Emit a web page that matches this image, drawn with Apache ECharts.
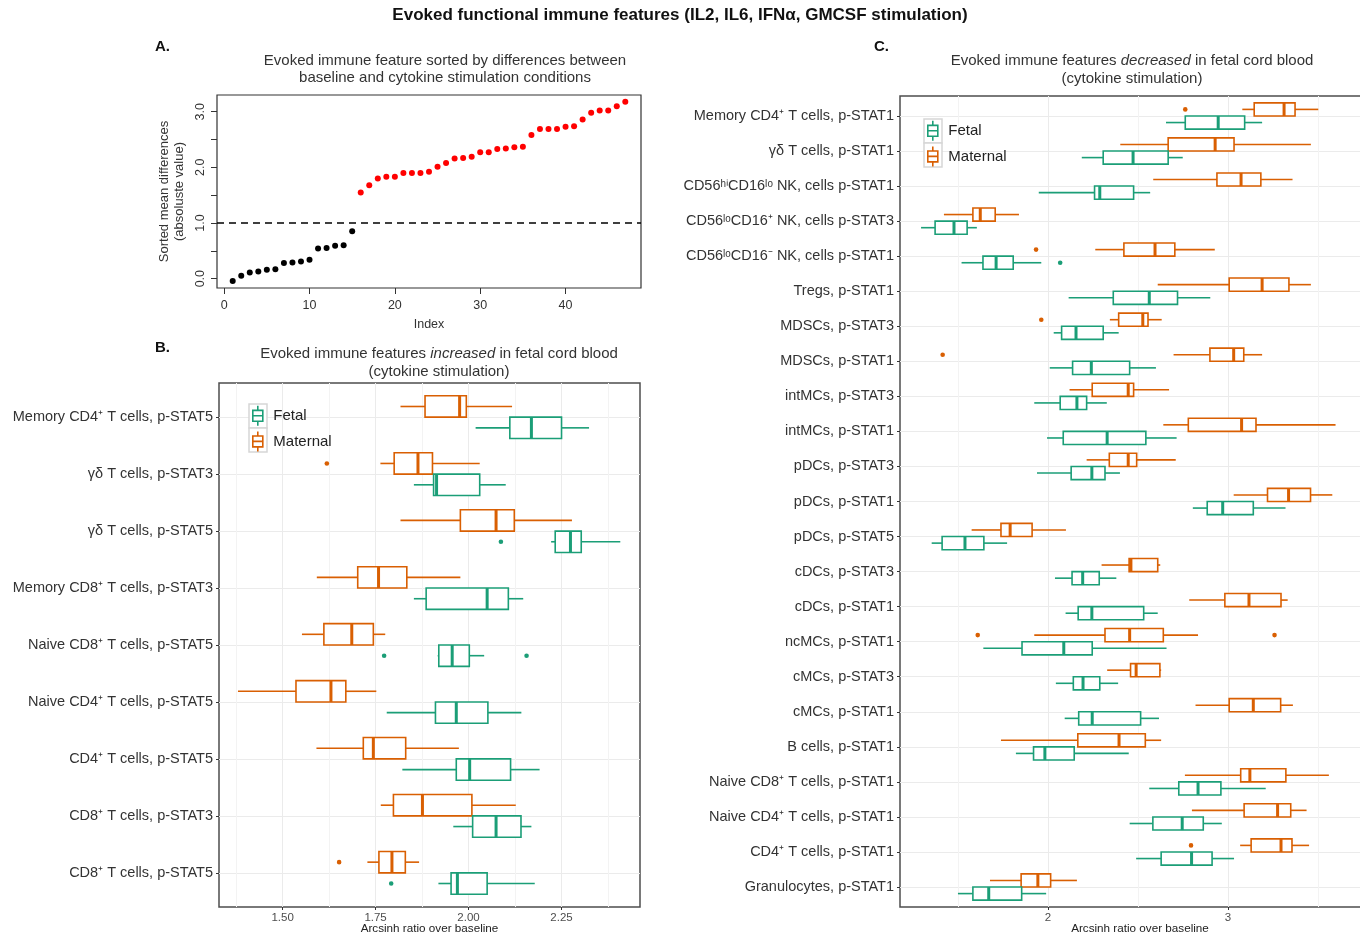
<!DOCTYPE html>
<html lang="en">
<head>
<meta charset="UTF-8">
<title>Evoked functional immune features</title>
<style>
  html, body { margin: 0; padding: 0; background: #fff; }
  #main { width: 1360px; height: 937px; }
</style>
</head>
<body>
<div id="main"></div>
<script src="https://cdn.jsdelivr.net/npm/echarts@6.0.0/dist/echarts.min.js"></script>
<script>
// ---------- panel A: sorted mean differences ----------
var aDiff = [-0.04, 0.05, 0.11, 0.13, 0.16, 0.17, 0.28, 0.29, 0.31, 0.34,
  0.54, 0.55, 0.59, 0.60, 0.85, 1.55, 1.68, 1.80, 1.83, 1.83,
  1.90, 1.90, 1.90, 1.92, 2.01, 2.08, 2.16, 2.17, 2.19, 2.27,
  2.27, 2.33, 2.34, 2.36, 2.37, 2.58, 2.69, 2.69, 2.69, 2.73,
  2.74, 2.86, 2.98, 3.02, 3.02, 3.10, 3.18];
var aThreshold = 1.0;
var aXTicks = [0, 10, 20, 30, 40];
var aYTicks = [0, 0.5, 1, 1.5, 2, 2.5, 3];
var aYLabels = [0, 1, 2, 3];

// ---------- panel B: increased in fetal cord blood ----------
// rows: [min, q1, median, q3, max]
var bCategories = [
  'Memory CD4⁺ T cells, p-STAT5',
  'γδ T cells, p-STAT3',
  'γδ T cells, p-STAT5',
  'Memory CD8⁺ T cells, p-STAT3',
  'Naive CD8⁺ T cells, p-STAT5',
  'Naive CD4⁺ T cells, p-STAT5',
  'CD4⁺ T cells, p-STAT5',
  'CD8⁺ T cells, p-STAT3',
  'CD8⁺ T cells, p-STAT5'
];
var bMaternal = [
  [1.817, 1.883, 1.976, 1.994, 2.117],
  [1.763, 1.800, 1.864, 1.903, 2.030],
  [1.817, 1.978, 2.074, 2.123, 2.278],
  [1.592, 1.702, 1.758, 1.834, 1.978],
  [1.552, 1.611, 1.686, 1.744, 1.776],
  [1.380, 1.536, 1.630, 1.670, 1.752],
  [1.591, 1.717, 1.744, 1.831, 1.974],
  [1.764, 1.798, 1.876, 2.009, 2.127],
  [1.728, 1.759, 1.794, 1.830, 1.867]
];
var bFetal = [
  [2.019, 2.111, 2.169, 2.250, 2.324],
  [1.853, 1.906, 1.914, 2.030, 2.100],
  [2.222, 2.233, 2.274, 2.303, 2.408],
  [1.853, 1.886, 2.050, 2.107, 2.147],
  [1.917, 1.920, 1.956, 2.002, 2.042],
  [1.780, 1.911, 1.967, 2.052, 2.142],
  [1.822, 1.967, 2.003, 2.113, 2.191],
  [1.959, 2.011, 2.074, 2.141, 2.169],
  [1.919, 1.953, 1.970, 2.050, 2.178]
];
// [category index, value]
var bMaternalOut = [[1, 1.619], [8, 1.652]];
var bFetalOut = [[2, 2.087], [4, 1.773], [4, 2.156], [8, 1.792]];
var bMajorTicks = [1.5, 1.75, 2.0, 2.25];
var bMinorTicks = [1.375, 1.625, 1.875, 2.125, 2.375];

// ---------- panel C: decreased in fetal cord blood ----------
var cCategories = [
  'Memory CD4⁺ T cells, p-STAT1',
  'γδ T cells, p-STAT1',
  'CD56ʰⁱCD16ˡᵒ NK, cells p-STAT1',
  'CD56ˡᵒCD16⁺ NK, cells p-STAT3',
  'CD56ˡᵒCD16⁻ NK, cells p-STAT1',
  'Tregs, p-STAT1',
  'MDSCs, p-STAT3',
  'MDSCs, p-STAT1',
  'intMCs, p-STAT3',
  'intMCs, p-STAT1',
  'pDCs, p-STAT3',
  'pDCs, p-STAT1',
  'pDCs, p-STAT5',
  'cDCs, p-STAT3',
  'cDCs, p-STAT1',
  'ncMCs, p-STAT1',
  'cMCs, p-STAT3',
  'cMCs, p-STAT1',
  'B cells, p-STAT1',
  'Naive CD8⁺ T cells, p-STAT1',
  'Naive CD4⁺ T cells, p-STAT1',
  'CD4⁺ T cells, p-STAT1',
  'Granulocytes, p-STAT1'
];
var cMaternal = [
  [3.080, 3.146, 3.312, 3.373, 3.502],
  [2.402, 2.668, 2.929, 3.034, 3.461],
  [2.585, 2.939, 3.073, 3.183, 3.359],
  [1.422, 1.583, 1.624, 1.707, 1.839],
  [2.263, 2.422, 2.595, 2.705, 2.927],
  [2.610, 3.007, 3.190, 3.339, 3.461],
  [2.344, 2.393, 2.527, 2.556, 2.632],
  [2.698, 2.900, 3.032, 3.088, 3.190],
  [2.120, 2.246, 2.446, 2.476, 2.673],
  [2.641, 2.780, 3.076, 3.156, 3.598],
  [2.215, 2.341, 2.446, 2.493, 2.710],
  [3.032, 3.220, 3.337, 3.459, 3.580],
  [1.576, 1.739, 1.790, 1.912, 2.100],
  [2.298, 2.451, 2.461, 2.610, 2.624],
  [2.785, 2.983, 3.117, 3.295, 3.332],
  [1.924, 2.317, 2.454, 2.641, 2.834],
  [2.329, 2.459, 2.490, 2.622, 2.629],
  [2.820, 3.007, 3.141, 3.293, 3.361],
  [1.739, 2.166, 2.395, 2.541, 2.629],
  [2.761, 3.071, 3.122, 3.322, 3.561],
  [2.800, 3.090, 3.276, 3.349, 3.437],
  [3.068, 3.129, 3.295, 3.356, 3.451],
  [1.678, 1.851, 1.944, 2.015, 2.161]
];
var cFetal = [
  [2.656, 2.763, 2.946, 3.093, 3.190],
  [2.188, 2.307, 2.473, 2.668, 2.749],
  [1.949, 2.259, 2.288, 2.476, 2.568],
  [1.295, 1.373, 1.478, 1.551, 1.605],
  [1.520, 1.639, 1.712, 1.807, 1.963],
  [2.115, 2.363, 2.563, 2.720, 2.902],
  [2.032, 2.076, 2.156, 2.307, 2.393],
  [2.010, 2.137, 2.241, 2.454, 2.600],
  [1.924, 2.068, 2.161, 2.215, 2.327],
  [1.995, 2.085, 2.329, 2.544, 2.715],
  [1.939, 2.129, 2.244, 2.317, 2.400],
  [2.805, 2.885, 2.971, 3.141, 3.320],
  [1.354, 1.412, 1.539, 1.644, 1.773],
  [2.039, 2.134, 2.193, 2.285, 2.380],
  [2.098, 2.168, 2.244, 2.532, 2.610],
  [1.641, 1.856, 2.088, 2.246, 2.659],
  [2.044, 2.141, 2.195, 2.288, 2.390],
  [2.093, 2.171, 2.246, 2.515, 2.617],
  [1.822, 1.920, 1.983, 2.146, 2.449],
  [2.563, 2.727, 2.834, 2.961, 3.210],
  [2.454, 2.583, 2.746, 2.863, 2.966],
  [2.490, 2.629, 2.798, 2.912, 3.034],
  [1.500, 1.583, 1.671, 1.854, 1.990]
];
var cMaternalOut = [[0, 2.763], [4, 1.934], [6, 1.963], [7, 1.415], [15, 1.610], [15, 3.259], [21, 2.795]];
var cFetalOut = [[4, 2.068]];
var cMajorTicks = [2, 3];
var cMinorTicks = [1.5, 2.5, 3.5];

var FETAL = '#1b9e77';
var MATERNAL = '#d95f02';
var FONT = '"Liberation Sans", Arial, Helvetica, sans-serif';

// ---------- helpers ----------
function indices(arr) {
  return arr.map(function (d, i) { return i; });
}
function withIndex(rows) {
  return rows.map(function (r, i) { return [i].concat(r); });
}

// horizontal boxplot, dodged by `offset` category units
function boxRender(offset, color) {
  return function (params, api) {
    var cat = api.value(0);
    var yc = api.coord([api.value(3), cat + offset])[1];
    var h = api.size([0, 0.1875])[1];
    var xMin = api.coord([api.value(1), cat])[0];
    var xQ1 = api.coord([api.value(2), cat])[0];
    var xMed = api.coord([api.value(3), cat])[0];
    var xQ3 = api.coord([api.value(4), cat])[0];
    var xMax = api.coord([api.value(5), cat])[0];
    var ls = { stroke: color, lineWidth: 1.6 };
    return {
      type: 'group',
      children: [
        { type: 'line', shape: { x1: xMin, y1: yc, x2: xQ1, y2: yc }, style: ls },
        { type: 'line', shape: { x1: xQ3, y1: yc, x2: xMax, y2: yc }, style: ls },
        { type: 'rect', shape: { x: xQ1, y: yc - h, width: xQ3 - xQ1, height: 2 * h },
          style: { fill: '#fff', stroke: color, lineWidth: 1.6 } },
        { type: 'line', shape: { x1: xMed, y1: yc - h, x2: xMed, y2: yc + h },
          style: { stroke: color, lineWidth: 3 } }
      ]
    };
  };
}
function dotRender(offset, color) {
  return function (params, api) {
    var p = api.coord([api.value(1), api.value(0) + offset]);
    return { type: 'circle', shape: { cx: p[0], cy: p[1], r: 2.3 }, style: { fill: color } };
  };
}

function boxSeries(name, rows, xi, yi, offset, color) {
  return {
    name: name, type: 'custom', xAxisIndex: xi, yAxisIndex: yi,
    itemStyle: { color: color },
    renderItem: boxRender(offset, color),
    encode: { x: [1, 2, 3, 4, 5], y: 0 },
    data: withIndex(rows), z: 2
  };
}
function outSeries(name, pts, xi, yi, offset, color) {
  return {
    name: name, type: 'custom', xAxisIndex: xi, yAxisIndex: yi,
    itemStyle: { color: color },
    renderItem: dotRender(offset, color),
    encode: { x: 1, y: 0 },
    data: pts, z: 2
  };
}

function catAxis(grid, cats, pad) {
  return {
    type: 'value', gridIndex: grid, inverse: true,
    min: -pad, max: cats.length - 1 + pad,
    axisLine: { show: false, onZero: false },
    axisTick: { show: true, length: 3, customValues: indices(cats), lineStyle: { color: '#333', width: 1 } },
    axisLabel: {
      customValues: indices(cats), margin: 6, fontSize: 14.5, color: '#333', fontFamily: FONT,
      formatter: function (v) { return cats[Math.round(v)]; }
    },
    splitLine: { show: true, lineStyle: { color: '#ebebeb', width: 1 } }
  };
}
function valueAxis(grid, min, max, major, fmt) {
  return {
    type: 'value', gridIndex: grid, min: min, max: max,
    name: 'Arcsinh ratio over baseline', nameLocation: 'middle', nameGap: 16, nameMoveOverlap: false,
    nameTextStyle: { fontSize: 11.7, color: '#222', fontFamily: FONT },
    axisLine: { show: false, onZero: false },
    axisTick: { show: true, length: 3, customValues: major, lineStyle: { color: '#333', width: 1 } },
    axisLabel: { customValues: major, margin: 5, fontSize: 11.5, color: '#4d4d4d', fontFamily: FONT, formatter: fmt },
    splitLine: { show: true, lineStyle: { color: '#ebebeb', width: 1 } }
  };
}
function minorAxis(grid, min, max, minor) {
  return {
    type: 'value', gridIndex: grid, min: min, max: max, position: 'top',
    axisLine: { show: false, onZero: false },
    axisTick: { show: false, customValues: minor },
    axisLabel: { show: false },
    splitLine: { show: true, lineStyle: { color: '#f3f3f3', width: 1 } }
  };
}

var legendIcon = 'path://M5.5,0 V5 M0,5 H11 V17 H0 Z M0,11 H11 M5.5,17 V22';
function legendData() {
  return [
    { name: 'Fetal', icon: legendIcon, itemStyle: { color: 'rgba(0,0,0,0)', borderColor: FETAL, borderWidth: 1.6 } },
    { name: 'Maternal', icon: legendIcon, itemStyle: { color: 'rgba(0,0,0,0)', borderColor: MATERNAL, borderWidth: 1.6 } }
  ];
}
function legendAt(left, top) {
  return {
    orient: 'vertical', left: left, top: top, padding: 0,
    itemWidth: 11, itemHeight: 20, itemGap: 4, selectedMode: false,
    textStyle: { fontSize: 15, color: '#222', fontFamily: FONT, padding: [0, 0, 0, 5] },
    data: legendData()
  };
}
function keyRects(x, y) {
  return [0, 1].map(function (k) {
    return { type: 'rect', z: 3, shape: { x: x, y: y + k * 24, width: 18, height: 24 },
      style: { fill: '#fff', stroke: '#d6d6d6', lineWidth: 1.5 } };
  });
}

var chart = echarts.init(document.getElementById('main'), null, { renderer: 'canvas' });

var option = {
  animation: false,
  backgroundColor: '#fff',
  textStyle: { fontFamily: FONT },
  title: [
    { text: 'Evoked functional immune features (IL2, IL6, IFNα, GMCSF stimulation)',
      left: 680, top: 7, textAlign: 'center', padding: 0,
      textStyle: { fontSize: 17, fontWeight: 'bold', color: '#111', fontFamily: FONT } },
    { text: 'A.', left: 155, top: 39, padding: 0, textStyle: { fontSize: 15, fontWeight: 'bold', color: '#111', fontFamily: FONT } },
    { text: 'B.', left: 155, top: 340, padding: 0, textStyle: { fontSize: 15, fontWeight: 'bold', color: '#111', fontFamily: FONT } },
    { text: 'C.', left: 874, top: 39, padding: 0, textStyle: { fontSize: 15, fontWeight: 'bold', color: '#111', fontFamily: FONT } },
    { text: 'Evoked immune feature sorted by differences between\nbaseline and cytokine stimulation conditions',
      left: 445, top: 52, textAlign: 'center', padding: 0,
      textStyle: { fontSize: 15, lineHeight: 17, fontWeight: 'normal', color: '#333', fontFamily: FONT } },
    { text: '{n|Evoked immune features }{i|increased}{n| in fetal cord blood}\n{n|(cytokine stimulation)}',
      left: 439, top: 345, textAlign: 'center', padding: 0,
      textStyle: { fontWeight: 'normal', fontFamily: FONT, rich: {
        n: { fontSize: 15, lineHeight: 18, color: '#333', fontWeight: 'normal', fontFamily: FONT },
        i: { fontSize: 15, lineHeight: 18, color: '#333', fontWeight: 'normal', fontStyle: 'italic', fontFamily: FONT } } } },
    { text: '{n|Evoked immune features }{i|decreased}{n| in fetal cord blood}\n{n|(cytokine stimulation)}',
      left: 1132, top: 52, textAlign: 'center', padding: 0,
      textStyle: { fontWeight: 'normal', fontFamily: FONT, rich: {
        n: { fontSize: 15, lineHeight: 18, color: '#333', fontWeight: 'normal', fontFamily: FONT },
        i: { fontSize: 15, lineHeight: 18, color: '#333', fontWeight: 'normal', fontStyle: 'italic', fontFamily: FONT } } } }
  ],
  legend: [legendAt(252, 405), legendAt(927, 120)],
  graphic: keyRects(249, 404).concat(keyRects(924, 119)),
  grid: [
    { left: 217, top: 95, width: 424, height: 193, show: true, borderColor: '#333', borderWidth: 1.2, outerBoundsMode: 'none' },
    { left: 219, top: 383, width: 421, height: 524, show: true, borderColor: '#4d4d4d', borderWidth: 1.5, outerBoundsMode: 'none' },
    { left: 900, top: 96, width: 480, height: 811, show: true, borderColor: '#4d4d4d', borderWidth: 1.5, outerBoundsMode: 'none' }
  ],
  xAxis: [
    { type: 'value', gridIndex: 0, min: -0.84, max: 48.84,
      name: 'Index', nameLocation: 'middle', nameGap: 30,
      nameTextStyle: { fontSize: 12.5, color: '#333', fontFamily: FONT },
      axisLine: { show: false, onZero: false },
      axisTick: { show: true, length: 6, customValues: aXTicks, lineStyle: { color: '#333' } },
      axisLabel: { customValues: aXTicks, margin: 11, fontSize: 12.5, color: '#333', fontFamily: FONT },
      splitLine: { show: false } },
    valueAxis(1, 1.329, 2.461, bMajorTicks, function (v) { return v.toFixed(2); }),
    minorAxis(1, 1.329, 2.461, bMinorTicks),
    valueAxis(2, 1.178, 3.845, cMajorTicks, function (v) { return String(Math.round(v)); }),
    minorAxis(2, 1.178, 3.845, cMinorTicks)
  ],
  yAxis: [
    { type: 'value', gridIndex: 0, min: -0.168, max: 3.30,
      name: 'Sorted mean differences\n(absoluste value)', nameLocation: 'middle', nameGap: 30, nameRotate: 90,
      nameTextStyle: { fontSize: 13, lineHeight: 15, color: '#333', fontFamily: FONT },
      axisLine: { show: false, onZero: false },
      axisTick: { show: true, length: 6, customValues: aYTicks, lineStyle: { color: '#333' } },
      axisLabel: { customValues: aYLabels, rotate: 90, margin: 10, fontSize: 12.5, color: '#333', fontFamily: FONT,
        formatter: function (v) { return v.toFixed(1); } },
      splitLine: { show: false } },
    catAxis(1, bCategories, 0.6),
    catAxis(2, cCategories, 0.57)
  ],
  series: [
    { name: 'diff', type: 'scatter', xAxisIndex: 0, yAxisIndex: 0, symbolSize: 6,
      data: aDiff.map(function (v, i) { return [i + 1, v]; }),
      itemStyle: { opacity: 1, borderWidth: 0,
        color: function (p) { return p.value[1] > aThreshold ? '#ff0000' : '#000000'; } },
      markLine: { silent: true, symbol: ['none', 'none'], label: { show: false },
        lineStyle: { type: [7, 5], color: '#000', width: 1.6 },
        data: [{ yAxis: aThreshold }] } },
    boxSeries('Maternal', bMaternal, 1, 1, -0.1875, MATERNAL),
    boxSeries('Fetal', bFetal, 1, 1, 0.1875, FETAL),
    outSeries('Maternal', bMaternalOut, 1, 1, -0.1875, MATERNAL),
    outSeries('Fetal', bFetalOut, 1, 1, 0.1875, FETAL),
    boxSeries('Maternal', cMaternal, 3, 2, -0.1875, MATERNAL),
    boxSeries('Fetal', cFetal, 3, 2, 0.1875, FETAL),
    outSeries('Maternal', cMaternalOut, 3, 2, -0.1875, MATERNAL),
    outSeries('Fetal', cFetalOut, 3, 2, 0.1875, FETAL)
  ]
};

chart.setOption(option);
</script>
</body>
</html>
